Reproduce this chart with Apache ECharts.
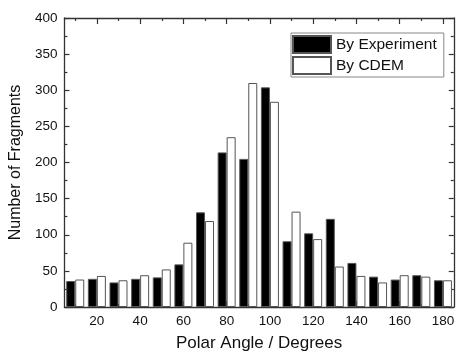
<!DOCTYPE html>
<html>
<head>
<meta charset="utf-8">
<script src="https://cdn.jsdelivr.net/npm/echarts@6/dist/echarts.min.js"></script>
<style>
html,body{margin:0;padding:0;background:#fff;}
#chart{width:457px;height:357px;}
</style>
</head>
<body>
<div id="chart"></div>
<script>
const categories = ['10','20','30','40','50','60','70','80','90','100','110','120','130','140','150','160','170','180'];
const experiment = [36, 39, 34, 39, 41, 59, 131, 214, 205, 304, 91, 102, 122, 61, 42, 38, 44, 37];
const cdem = [38, 43, 37, 44, 52, 89, 119, 235, 310, 284, 132, 94, 56, 43, 34, 44, 42, 37];
const yTicks = [0, 50, 100, 150, 200, 250, 300, 350, 400];

const FONT = 'Liberation Sans, Arial, sans-serif';
const AX = '#333';
const isMajor = (i) => i % 2 === 1;
const isMinor = (i) => i % 2 === 0;

function xAx(position, major, labels) {
  return {
    type: 'category', position: position, data: categories, boundaryGap: true,
    axisLine: { show: major, lineStyle: { color: AX, width: 1.3 } },
    axisTick: { show: true, inside: true, alignWithLabel: true, length: major ? 6 : 3,
      interval: major ? isMajor : isMinor, lineStyle: { color: AX, width: 1.2 } },
    axisLabel: { show: labels, interval: isMajor, color: '#111', fontFamily: FONT, fontSize: 13.5, margin: 7 },
    splitLine: { show: false },
    name: labels ? 'Polar Angle / Degrees' : '', nameLocation: 'middle', nameGap: 28,
    nameTextStyle: { color: '#111', fontFamily: FONT, fontSize: 17 }
  };
}
function yAx(position, labels) {
  return {
    type: 'value', position: position, min: yTicks[0], max: yTicks[yTicks.length - 1], interval: 50,
    axisLine: { show: true, lineStyle: { color: AX, width: 1.3 } },
    axisTick: { show: true, inside: true, length: 5, lineStyle: { color: AX, width: 1.2 } },
    minorTick: { show: true, splitNumber: 2, length: 3, lineStyle: { color: AX, width: 1.2 } },
    axisLabel: { show: labels, color: '#111', fontFamily: FONT, fontSize: 13.5, margin: 7 },
    splitLine: { show: false },
    name: labels ? 'Number of Fragments' : '', nameLocation: 'middle', nameGap: 33,
    nameTextStyle: { color: '#111', fontFamily: FONT, fontSize: 16 }
  };
}

const chart = echarts.init(document.getElementById('chart'), null, { renderer: 'canvas' });
chart.setOption({
  animation: false,
  backgroundColor: '#fff',
  grid: { left: 59, right: 1, top: 18, bottom: 45 },
  legend: {
    left: 291, top: 33, orient: 'vertical',
    itemWidth: 38, itemHeight: 17, itemGap: 2,
    padding: [2, 7, 2, 1],
    borderColor: '#888', borderWidth: 1,
    icon: 'rect',
    textStyle: { color: '#111', fontFamily: FONT, fontSize: 15.5, padding: [0, 0, 0, 0] },
    data: ['By Experiment', 'By CDEM']
  },
  xAxis: [xAx('bottom', true, true), xAx('bottom', false, false), xAx('top', true, false), xAx('top', false, false)],
  yAxis: [yAx('left', true), yAx('right', false)],
  series: [
    { name: 'By Experiment', type: 'bar', xAxisIndex: 0, yAxisIndex: 0, data: experiment,
      barWidth: 9, barGap: '0%',
      itemStyle: { color: '#000', borderColor: '#555', borderWidth: 1 } },
    { name: 'By CDEM', type: 'bar', xAxisIndex: 0, yAxisIndex: 0, data: cdem,
      barWidth: 9, barGap: '0%',
      itemStyle: { color: '#fff', borderColor: '#555', borderWidth: 1 } }
  ]
});
</script>
</body>
</html>
